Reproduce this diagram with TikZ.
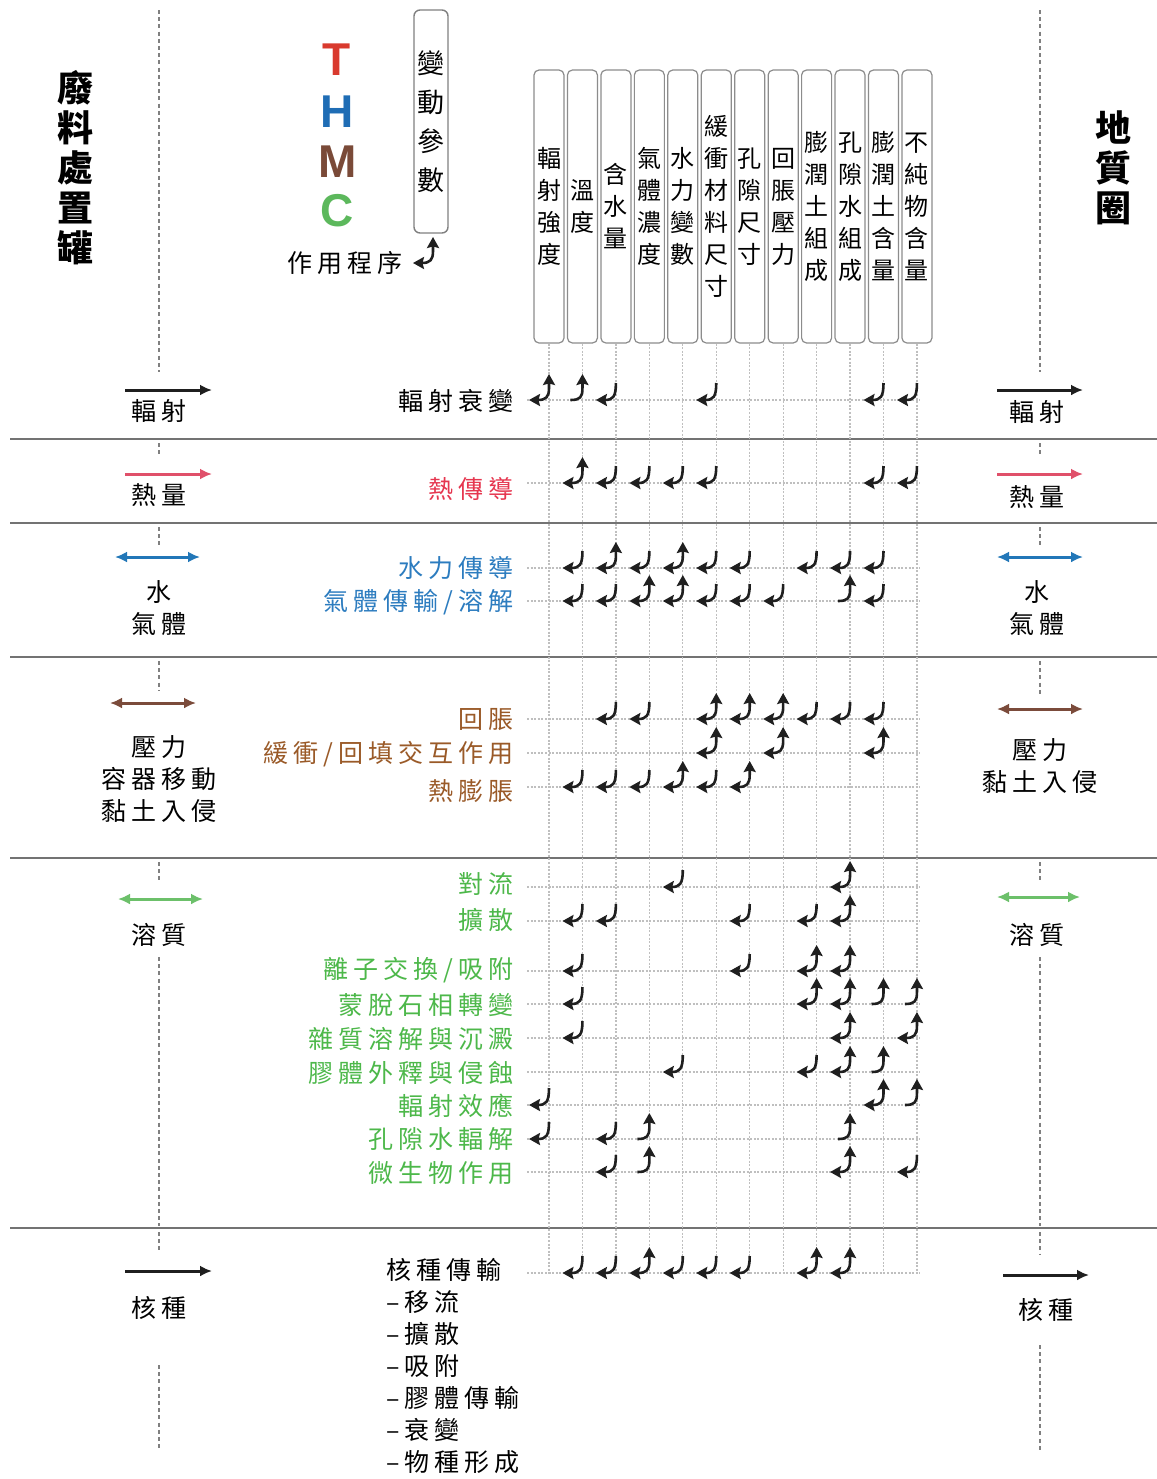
\documentclass[tikz,border=0pt]{standalone}
\usepackage{fontspec}
\setmainfont{Liberation Sans}
\newfontfamily\cjk{Noto Sans CJK TC}
\newfontfamily\cjksp[LetterSpace=20]{Noto Sans CJK TC}
\usetikzlibrary{arrows.meta}
\definecolor{cT}{HTML}{D93A2E}
\definecolor{cH}{HTML}{1F6DB5}
\definecolor{cM}{HTML}{7A4A38}
\definecolor{cC}{HTML}{5CB85C}
\definecolor{heatT}{HTML}{E6364F}
\definecolor{heatA}{HTML}{E0506A}
\definecolor{hydT}{HTML}{2C7CBF}
\definecolor{hydA}{HTML}{2277B8}
\definecolor{mechT}{HTML}{9A5A28}
\definecolor{mechA}{HTML}{7B4B3B}
\definecolor{chemT}{HTML}{4DB84A}
\definecolor{chemA}{HTML}{6CC06A}
\tikzset{
 arr/.style={line width=1.3pt, draw=black!88},
 hd/.tip={Stealth[length=5.5pt,width=6pt,inset=0.8pt]},
 sepline/.style={draw=black!55, line width=1pt},
 bordash/.style={draw=black!50, line width=0.8pt, dash pattern=on 2pt off 1.6pt},
 gridln/.style={draw=black!25, line width=0.6pt, dash pattern=on 1pt off 0.8pt},
 colbox/.style={draw=black!45, line width=0.6pt, rounded corners=2.5pt, minimum width=15pt, minimum height=136.5pt, inner sep=0pt, align=center, font=\cjk\fontsize{12}{16}\selectfont},
 proc/.style={anchor=east, inner sep=0pt, font=\cjksp\fontsize{12.5}{14}\selectfont},
 side/.style={inner sep=1pt, align=center, font=\cjksp\fontsize{12.5}{16}\selectfont},
 bighd/.tip={Latex[length=6pt,width=5.5pt]},
 flow/.style={line width=1.5pt, -bighd},
 flowtwo/.style={line width=1.5pt, bighd-bighd},
}
\newcommand\arL[2]{\draw[arr,-hd] (#1,#2-17) .. controls (#1,#2-3) and (#1-3,#2) .. (#1-20,#2);}
\newcommand\arU[2]{\draw[arr,-hd] (#1-12,#2) .. controls (#1-2,#2) and (#1,#2-3) .. (#1,#2-12) -- (#1,#2-26);}
\newcommand\arB[2]{\draw[arr,hd-hd] (#1-20,#2) .. controls (#1-3,#2) and (#1,#2-3) .. (#1,#2-12) -- (#1,#2-26);}
\newcommand\arrrow[2]{\foreach \c/\t in {#2}{\pgfmathsetmacro\xx{549+33.45*(\c-1)}\csname ar\t\endcsname{\xx}{#1}}}
\begin{document}
\begin{tikzpicture}[x=0.5pt,y=-0.5pt]
\fill[white] (0,0) rectangle (1157,1479);
\useasboundingbox (0,0) rectangle (1157,1479);

% separators
\foreach \y in {439,523,657,858,1228} \draw[sepline] (10,\y) -- (1157,\y);

% dashed boundaries
\foreach \a/\b in {10/372,443/457,527/545,661/690,862/880,957/1226,1232/1250,1365/1450}
  \draw[bordash] (159,\a) -- (159,\b);
\foreach \a/\b in {10/372,443/457,527/545,661/695,862/880,957/1226,1232/1255,1345/1450}
  \draw[bordash] (1040,\a) -- (1040,\b);

% titles
\node[font=\cjk\bfseries\fontsize{18}{20}\selectfont, align=center, inner sep=0pt] (tank) at (75,168) {廢\\料\\處\\置\\罐};
\node[font=\cjk\bfseries\fontsize{18}{20}\selectfont, align=center, inner sep=0pt] (geo) at (1113,168) {地\\質\\圈};

% THMC
\node[font=\bfseries\fontsize{23}{23}\selectfont, text=cT, anchor=base, inner sep=0pt] (T) at (337,75) {T};
\node[font=\bfseries\fontsize{23}{23}\selectfont, text=cH, anchor=base, inner sep=0pt] (H) at (337,127) {H};
\node[font=\bfseries\fontsize{23}{23}\selectfont, text=cM, anchor=base, inner sep=0pt] (M) at (338,177) {M};
\node[font=\bfseries\fontsize{23}{23}\selectfont, text=cC, anchor=base, inner sep=0pt] (C) at (337,226) {C};
\node[draw=black!50, line width=0.7pt, rounded corners=3pt, minimum width=17pt, minimum height=111.5pt, align=center, inner sep=0pt, font=\cjk\fontsize{13.5}{19.5}\selectfont] (var) at (431,121.5) {變\\動\\參\\數};
\node[proc] (act) at (403,263) {作用程序};
\arB{433}{263}

% column headers and grid
\foreach \i/\t in {1/{輻\\射\\強\\度},2/{溫\\度},3/{含\\水\\量},4/{氣\\體\\濃\\度},5/{水\\力\\變\\數},6/{緩\\衝\\材\\料\\尺\\寸},7/{孔\\隙\\尺\\寸},8/{回\\脹\\壓\\力},9/{膨\\潤\\土\\組\\成},10/{孔\\隙\\水\\組\\成},11/{膨\\潤\\土\\含\\量},12/{不\\純\\物\\含\\量}}{
  \pgfmathsetmacro\xx{549+33.45*(\i-1)}
  \node[colbox] (p\i) at (\xx,206.5) {\t};
  \draw[gridln] (p\i.south) -- (\xx,1275);
}
\foreach \y in {400,483,568,601,719,753,787,887,921,971,1004,1038,1072,1105,1139,1172,1273}
  \draw[gridln] (527,\y) -- (920,\y);

% process labels
\node[proc] (r1) at (514,401) {輻射衰變};
\node[proc,text=heatT] (r2) at (514,489) {熱傳導};
\node[proc,text=hydT] (r3) at (514,568) {水力傳導};
\node[proc,text=hydT] (r4) at (514,602) {氣體傳輸/溶解};
\node[proc,text=mechT] (r5) at (514,720) {回脹};
\node[proc,text=mechT] (r6) at (514,754) {緩衝/回填交互作用};
\node[proc,text=mechT] (r7) at (514,791) {熱膨脹};
\node[proc,text=chemT] (r8) at (514,884) {對流};
\node[proc,text=chemT] (r9) at (514,920) {擴散};
\node[proc,text=chemT] (r10) at (514,970) {離子交換/吸附};
\node[proc,text=chemT] (r11) at (514,1005) {蒙脫石相轉變};
\node[proc,text=chemT] (r12) at (514,1039) {雜質溶解與沉澱};
\node[proc,text=chemT] (r13) at (514,1073) {膠體外釋與侵蝕};
\node[proc,text=chemT] (r14) at (514,1106) {輻射效應};
\node[proc,text=chemT] (r15) at (514,1139) {孔隙水輻解};
\node[proc,text=chemT] (r16) at (514,1173) {微生物作用};
\node[anchor=west, align=left, inner sep=0pt, font=\cjksp\fontsize{12.5}{16}\selectfont] (nuc) at (386,1366) {核種傳輸\\–移流\\–擴散\\–吸附\\–膠體傳輸\\–衰變\\–物種形成};

% interaction arrows
\arrrow{400}{1/B,2/U,3/L,6/L,11/L,12/L}
\arrrow{483}{2/B,3/L,4/L,5/L,6/L,11/L,12/L}
\arrrow{568}{2/L,3/B,4/L,5/B,6/L,7/L,9/L,10/L,11/L}
\arrrow{601}{2/L,3/L,4/B,5/B,6/L,7/L,8/L,10/U,11/L}
\arrrow{719}{3/L,4/L,6/B,7/B,8/B,9/L,10/L,11/L}
\arrrow{753}{6/B,8/B,11/B}
\arrrow{787}{2/L,3/L,4/L,5/B,6/L,7/B}
\arrrow{887}{5/L,10/B}
\arrrow{921}{2/L,3/L,7/L,9/L,10/B}
\arrrow{971}{2/L,7/L,9/B,10/B}
\arrrow{1004}{2/L,9/B,10/B,11/U,12/U}
\arrrow{1038}{2/L,10/B,12/B}
\arrrow{1072}{5/L,9/L,10/B,11/U}
\arrrow{1105}{1/L,11/B,12/U}
\arrrow{1139}{1/L,3/L,4/U,10/U}
\arrrow{1172}{3/L,4/U,10/B,12/L}
\arrrow{1273}{2/L,3/L,4/B,5/L,6/L,7/L,9/B,10/B}

% left side groups
\draw[flow,black!88] (125,390) -- (212,390);
\node[side] (l1) at (159,411) {輻射};
\draw[flow,heatA] (125,474) -- (212,474);
\node[side] (l2) at (159,495) {熱量};
\draw[flowtwo,hydA] (115,557) -- (200,557);
\node[side] (l3) at (159,608) {水\\氣體};
\draw[flowtwo,mechA] (110,703) -- (196,703);
\node[side] (l4) at (159,779) {壓力\\容器移動\\黏土入侵};
\draw[flowtwo,chemA] (118,899) -- (203,899);
\node[side] (l5) at (159,935) {溶質};
\draw[flow,black!88] (125,1271) -- (212,1271);
\node[side] (l6) at (159,1308) {核種};

% right side groups
\draw[flow,black!88] (997,390) -- (1083,390);
\node[side] (g1) at (1037,412) {輻射};
\draw[flow,heatA] (997,474) -- (1083,474);
\node[side] (g2) at (1037,497) {熱量};
\draw[flowtwo,hydA] (997,557) -- (1083,557);
\node[side] (g3) at (1037,608) {水\\氣體};
\draw[flowtwo,mechA] (997,709) -- (1083,709);
\node[side] (g4) at (1040,766) {壓力\\黏土入侵};
\draw[flowtwo,chemA] (997,897) -- (1080,897);
\node[side] (g5) at (1037,935) {溶質};
\draw[flow,black!88] (1003,1275) -- (1089,1275);
\node[side] (g6) at (1046,1310) {核種};
\end{tikzpicture}
\end{document}
